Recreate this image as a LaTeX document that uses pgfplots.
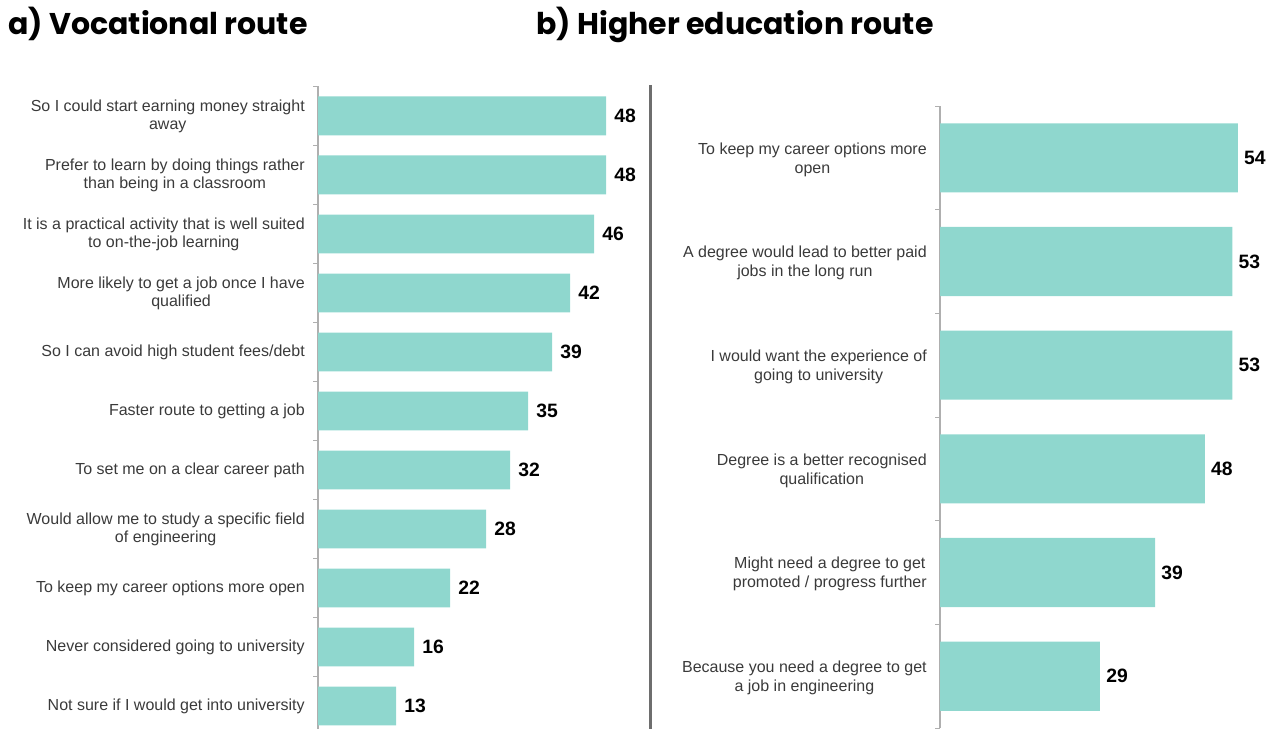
\documentclass[border=0pt]{standalone}
\usepackage{pgfplots}
\pgfplotsset{compat=1.18}
\usepackage{fontspec}
\setmainfont{Liberation Sans}
\newfontfamily\titlefont{Poppins}
\definecolor{barc}{RGB}{143,215,206}
\definecolor{lab}{RGB}{58,58,58}
\definecolor{axc}{RGB}{175,175,175}
\definecolor{divc}{RGB}{110,110,110}
\begin{document}
\begin{tikzpicture}
\pgfplotsset{
  common/.style={
    scale only axis,
    xbar, bar shift=0pt,
    xmin=0, y dir=reverse,
    axis lines*=left, hide x axis,
    axis line style={draw=axc, line width=0.9pt},
    major tick length=0pt, minor tick length=3.75pt, tick align=outside,
    minor tick style={draw=axc, line width=0.75pt},
    enlarge y limits=false, clip=false,
    point meta=explicit symbolic, nodes near coords,
    every node near coord/.append style={font=\fontsize{14.5pt}{16pt}\selectfont\bfseries, anchor=west, inner sep=0pt, text=black},
    yticklabel style={text=lab, align=center, anchor=east, inner sep=0pt},
  }
}
\begin{axis}[common, at={(238.5pt,-5.6pt)}, anchor=south west,
  width=247.5pt, height=486.75pt, xmax=55,
  ymin=-0.5, ymax=10.5, ytick={0,...,10}, minor ytick={-0.5,0.5,...,10.5},
  bar width=0.66,
  yticklabel style={font=\fontsize{12pt}{13.6pt}\selectfont, xshift=-9.75pt, yshift=-0.6pt},
  every node near coord/.append style={xshift=6pt},
  yticklabels={{So I could start earning money straight\\away},
    {Prefer to learn by doing things rather\\than being in a classroom},
    {It is a practical activity that is well suited\\to on-the-job learning},
    {More likely to get a job once I have\\qualified},
    {So I can avoid high student fees/debt},
    {Faster route to getting a job},
    {To set me on a clear career path},
    {Would allow me to study a specific field\\of engineering},
    {To keep my career options more open},
    {Never considered going to university},
    {Not sure if I would get into university}}]
\addplot[fill=barc, draw=none] coordinates {(48,0)[48] (48,1)[48] (46,2)[46] (42,3)[42] (39,4)[39] (35,5)[35] (32,6)[32] (28,7)[28] (22,8)[22] (16,9)[16] (13,10)[13]};
\end{axis}
\begin{axis}[common, at={(705pt,0pt)}, anchor=south west,
  width=248.25pt, height=466.5pt, xmax=60,
  ymin=-0.5, ymax=5.5, ytick={0,...,5}, minor ytick={-0.5,0.5,...,5.5},
  bar width=0.667,
  yticklabel style={font=\fontsize{12pt}{14.25pt}\selectfont, xshift=-9.75pt, yshift=-1.2pt},
  every node near coord/.append style={xshift=4.5pt},
  yticklabels={{To keep my career options more\\open},
    {A degree would lead to better paid\\jobs in the long run},
    {I would want the experience of\\going to university},
    {Degree is a better recognised\\qualification},
    {Might need a degree to get\\promoted / progress further},
    {Because you need a degree to get\\a job in engineering}}]
\addplot[fill=barc, draw=none] coordinates {(54,0)[54] (53,1)[53] (53,2)[53] (48,3)[48] (39,4)[39] (29,5)[29]};
\end{axis}
\draw[line width=2.25pt, divc] (487.5pt,482.25pt) -- (487.5pt,-5pt);
\node[anchor=base west, inner sep=0pt, font={\titlefont\bfseries\fontsize{22.5pt}{26pt}\selectfont}] at (6pt,519.75pt) {a) Vocational route};
\node[anchor=base west, inner sep=0pt, font={\titlefont\bfseries\fontsize{22.5pt}{26pt}\selectfont}] at (402pt,519.75pt) {b) Higher education route};
\pgfresetboundingbox
\useasboundingbox (0,0) rectangle (957pt,546pt);
\end{tikzpicture}
\end{document}
